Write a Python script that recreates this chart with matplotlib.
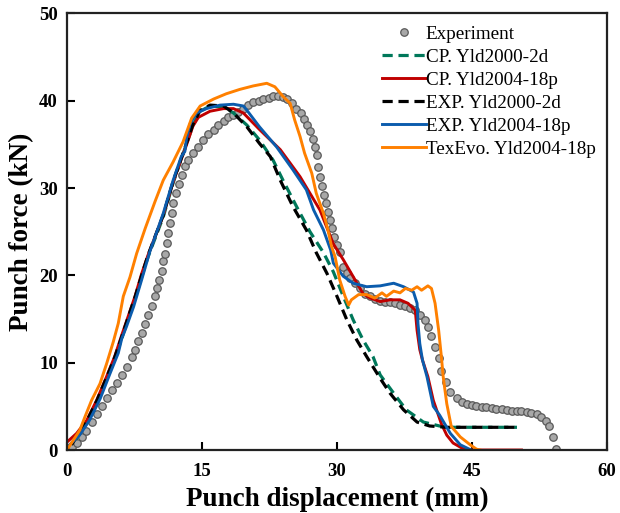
import matplotlib
matplotlib.use('Agg')
import matplotlib.pyplot as plt

plt.rcParams['font.family'] = ['Liberation Serif', 'DejaVu Serif']

# experiment (grey circles)
exp_x = [0.4, 0.52, 1.07, 1.63, 2.11, 2.74, 3.3, 3.85, 4.41, 4.96, 5.52, 6.07, 6.63, 7.19, 7.56, 7.93,
         8.3, 8.67, 9.04, 9.41, 9.78, 10.04, 10.26, 10.52, 10.7, 10.9, 11.07, 11.26, 11.44, 11.63,
         11.8, 12.1, 12.4, 12.74, 13.1, 13.5, 14.0, 14.6, 15.1, 15.7, 16.3, 16.8, 17.4, 17.9, 18.5,
         19.0, 19.6, 20.1, 20.7, 21.3, 21.8, 22.4, 22.9, 23.5, 24.0, 24.5, 25.0, 25.5, 25.96, 26.3,
         26.7, 27.0, 27.3, 27.6, 27.75, 27.9, 28.1, 28.3, 28.6, 28.8, 29.0, 29.2, 29.4, 29.7, 30.0,
         30.3, 30.7, 31.1, 31.5, 32.0, 32.6, 33.1, 33.7, 34.2, 34.8, 35.3, 35.9, 36.4, 37.0, 37.6,
         38.1, 38.7, 39.2, 39.8, 40.1, 40.5, 40.9, 41.3, 41.6, 42.1, 42.6, 43.3, 43.9, 44.4, 45.0,
         45.5, 46.1, 46.6, 47.2, 47.7, 48.3, 48.9, 49.4, 50.0, 50.5, 51.1, 51.6, 52.2, 52.7, 53.2,
         53.6, 54.0, 54.3]
exp_y = [0.05, 0.38, 0.84, 1.45, 2.21, 3.25, 4.12, 5.04, 5.92, 6.87, 7.71, 8.59, 9.54, 10.6, 11.5, 12.5,
         13.4, 14.4, 15.5, 16.5, 17.6, 18.5, 19.5, 20.5, 21.6, 22.5, 23.7, 24.8, 26.0, 27.1,
         28.3, 29.4, 30.5, 31.5, 32.5, 33.2, 34.0, 34.7, 35.5, 36.2, 36.7, 37.2, 37.7, 38.1, 38.4,
         38.7, 39.1, 39.5, 39.8, 40.0, 40.2, 40.35, 40.5, 40.5, 40.4, 40.2, 39.7, 39.1, 38.6, 37.9,
         37.2, 36.5, 35.6, 34.7, 33.8, 32.4, 31.3, 30.2, 29.2, 28.3, 27.3, 26.3, 25.4, 24.4, 23.5,
         22.7, 21.0, 20.3, 19.7, 19.1, 18.5, 17.9, 17.6, 17.3, 17.1, 17.0, 16.9, 16.8, 16.65, 16.5,
         16.3, 16.0, 15.5, 14.9, 14.1, 13.0, 11.8, 10.5, 9.1, 7.8, 6.7, 5.9, 5.5, 5.3, 5.15,
         5.0, 4.96, 4.9, 4.8, 4.73, 4.66, 4.6, 4.5, 4.47, 4.43, 4.35, 4.27, 4.1, 3.8, 3.36,
         2.75, 1.5, 0.1]

# CP. Yld2000-2d (green dashed)
cp2000_x = [1.0, 2.2, 3.3, 4.4, 5.3, 6.1, 6.8, 7.56, 8.3, 9.0, 10.7, 11.8, 12.7, 13.3, 14.0, 14.8,
            15.9, 17.4, 18.5, 20.0, 21.4, 22.9, 24.0, 25.5, 27.0, 28.5, 29.6, 30.7, 31.8, 32.9,
            34.0, 34.8, 36.3, 37.7, 39.6, 41.4, 43.0, 50.0]
cp2000_y = [1.2, 3.1, 5.4, 8.1, 10.4, 12.8, 15.0, 17.3, 19.8, 22.1, 26.7, 30.6, 33.3, 35.1, 37.2, 38.8,
            39.4, 39.3, 38.6, 37.2, 35.5, 33.2, 30.9, 27.9, 25.0, 22.6, 20.4, 17.6, 14.9, 12.6,
            10.7, 8.6, 6.5, 4.6, 3.2, 2.75, 2.6, 2.6]

# CP. Yld2004-18p (red)
cp2004_x = [0, 1.07, 2.2, 3.3, 4.4, 5.3, 6.1, 6.8, 7.56, 8.3, 9.0, 10.7, 11.8, 12.7, 13.3, 14.0,
            14.6, 15.9, 17.4, 18.5, 19.6, 21.4, 23.7, 25.9, 28.1, 29.6, 30.7, 32.0, 32.9, 33.7,
            34.8, 35.9, 37.0, 37.9, 38.7, 38.9, 39.2, 39.5, 40.1, 40.7, 41.6, 42.2, 42.9, 44.0,
            45.0, 50.5]
cp2004_y = [0.9, 1.9, 3.4, 5.7, 8.4, 10.7, 13.2, 15.3, 17.6, 20.2, 22.3, 26.9, 30.7, 33.3, 35.0, 37.1,
            38.1, 38.8, 39.1, 39.1, 38.6, 36.7, 34.4, 31.3, 27.5, 23.6, 21.8, 19.5, 17.9, 17.4,
            17.0, 17.2, 17.2, 16.8, 16.0, 13.7, 11.5, 10.3, 8.4, 5.7, 3.0, 1.7, 0.8, 0.15,
            0, 0]

# EXP. Yld2000-2d (black dashed)
ex2000_x = [0.5, 2.2, 3.3, 4.4, 5.3, 6.1, 6.8, 7.56, 8.3, 9.0, 10.7, 11.8, 12.7, 13.3, 14.0, 14.8,
            15.9, 17.4, 18.5, 20.0, 21.4, 22.6, 23.7, 25.1, 26.6, 27.7, 28.9, 30.0, 31.1, 32.2,
            33.3, 34.8, 35.9, 37.4, 38.9, 40.3, 42.2, 50.0]
ex2000_y = [0.6, 3.3, 5.6, 8.3, 10.6, 13.0, 15.2, 17.5, 20.0, 22.3, 26.9, 30.8, 33.4, 35.2, 37.3, 38.9,
            39.5, 39.4, 38.6, 37.0, 35.1, 33.6, 30.9, 27.9, 25.2, 22.6, 20.2, 17.6, 14.9, 12.6,
            10.7, 8.2, 6.5, 4.6, 3.2, 2.75, 2.6, 2.6]

# EXP. Yld2004-18p (blue)
ex2004_x = [0.1, 1.4, 2.5, 3.7, 4.8, 5.7, 6.1, 6.6, 7.4, 8.3, 9.2, 10.7, 11.8, 12.7, 13.1, 13.3,
            13.7, 14.4, 15.5, 17.0, 18.5, 19.6, 20.0, 21.4, 23.3, 25.1, 26.6, 27.4, 28.5, 29.3,
            29.6, 30.7, 31.8, 33.3, 34.8, 36.3, 37.4, 38.5, 38.9, 39.0, 39.2, 39.5, 40.0, 40.7,
            41.4, 42.6, 43.7, 44.8]
ex2004_y = [0.4, 1.7, 3.4, 5.9, 8.8, 11.1, 12.8, 14.1, 16.4, 19.5, 22.7, 27.1, 30.9, 33.6, 34.2, 35.8,
            37.4, 38.6, 39.1, 39.5, 39.6, 39.4, 38.9, 37.0, 34.7, 32.1, 29.8, 27.5, 25.2, 22.9,
            21.4, 19.9, 19.1, 18.7, 18.8, 19.1, 18.7, 18.1, 16.8, 14.5, 12.2, 10.3, 8.4, 5.0,
            4.0, 1.9, 0.6, 0.05]

# TexEvo. Yld2004-18p (orange)
tex_x = [0, 0.5, 1.44, 2.0, 2.74, 3.67, 4.41, 5.15, 5.7, 6.26, 7.0, 7.74, 8.7, 9.8, 10.7, 11.8,
         12.9, 13.85, 14.8, 16.3, 17.7, 19.2, 20.7, 22.2, 23.1, 24.0, 24.8, 25.3, 25.9, 26.4,
         27.2, 27.7, 28.5, 29.0, 29.4, 29.8, 30.3, 30.9, 31.3, 31.6, 32.4, 33.3, 34.2, 35.0,
         35.5, 36.3, 37.0, 37.6, 38.3, 38.9, 39.4, 40.1, 40.5, 40.9, 41.3, 41.6, 41.8, 42.2,
         42.7, 43.7, 44.8, 45.5, 45.9]
tex_y = [0, 0.8, 2.3, 3.8, 5.7, 7.6, 9.9, 12.4, 14.5, 17.6, 19.8, 22.5, 25.4, 28.5, 30.9, 33.0,
         35.3, 38.0, 39.4, 40.2, 40.8, 41.3, 41.7, 42.0, 41.6, 40.5, 39.7, 37.8, 35.9, 34.0,
         31.7, 29.4, 27.1, 25.2, 23.3, 22.1, 19.5, 17.6, 16.6, 17.2, 17.8, 17.8, 17.4, 18.0,
         17.6, 18.2, 18.0, 18.5, 18.3, 18.7, 18.3, 18.8, 18.5, 16.8, 13.7, 10.7, 8.4, 5.3,
         2.7, 1.5, 0.6, 0.1, 0.0]

fig = plt.figure(figsize=(6.2, 5.13), dpi=100)
ax = fig.add_axes([0.108, 0.1228, 0.871, 0.851])

ax.plot(exp_x, exp_y, 'o', ms=5.4, mfc='#a8a8a8', mec='#595959', mew=0.9, label='Experiment')
ax.plot(cp2000_x, cp2000_y, color='#00785a', lw=2.3, dashes=(3.2, 1.8), label='CP. Yld2000-2d')
ax.plot(cp2004_x, cp2004_y, color='#c00000', lw=2.1, label='CP. Yld2004-18p')
ax.plot(ex2000_x, ex2000_y, color='black', lw=2.3, dashes=(3.2, 1.8), label='EXP. Yld2000-2d')
ax.plot(ex2004_x, ex2004_y, color='#0b5cad', lw=2.1, label='EXP. Yld2004-18p')
ax.plot(tex_x, tex_y, color='#ff8000', lw=2.1, label='TexEvo. Yld2004-18p')

ax.set_xlim(0, 60)
ax.set_ylim(0, 50)
ax.set_xticks([0, 15, 30, 45, 60])
ax.set_yticks([0, 10, 20, 30, 40, 50])
ax.tick_params(direction='in', length=6, width=1.5, labelsize=13.5)
ax.tick_params(axis='x', pad=9)
ax.tick_params(axis='y', pad=6.5)
for lab in ax.get_xticklabels() + ax.get_yticklabels():
    lab.set_fontweight('bold')
for sp in ax.spines.values():
    sp.set_linewidth(1.6)
    sp.set_color('#222222')

ax.set_xlabel('Punch displacement (mm)', fontsize=19.5, fontweight='bold', labelpad=5)
ax.set_ylabel('Punch force (kN)', fontsize=19.5, fontweight='bold', labelpad=3.5)

ax.legend(loc='upper left', bbox_to_anchor=(0.583, 0.973), frameon=False, fontsize=13.8,
          borderpad=0, borderaxespad=0, handlelength=2.3, handletextpad=0.0, labelspacing=0.29)

fig.savefig('out.png', dpi=100)
